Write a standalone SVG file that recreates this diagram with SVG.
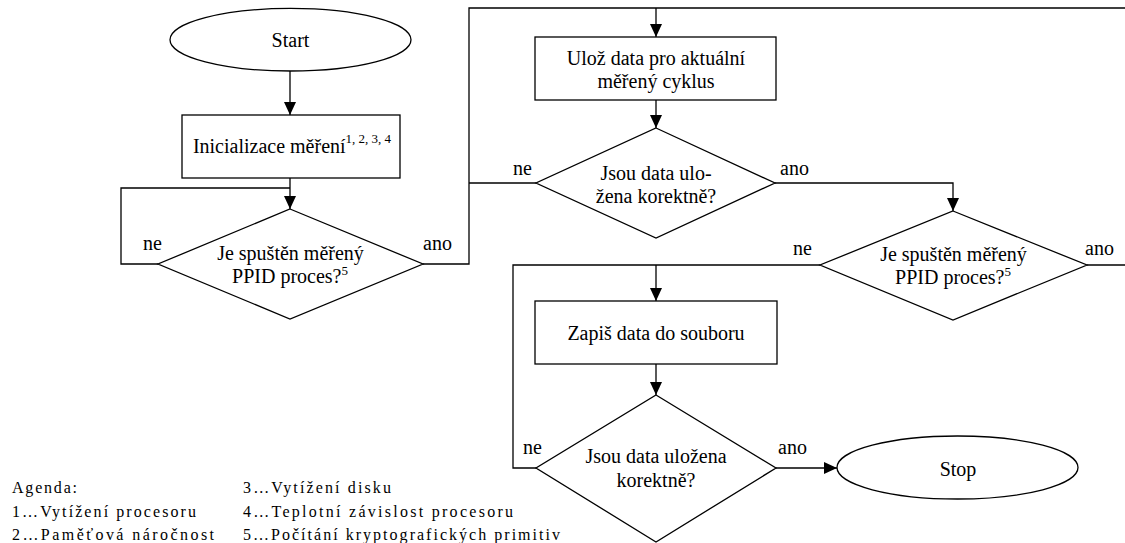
<svg xmlns="http://www.w3.org/2000/svg" width="1125" height="543" viewBox="0 0 1125 543" font-family="'Liberation Serif', 'Times New Roman', Tinos, 'DejaVu Serif', serif">
<style>
.n{fill:#fff;stroke:#000;stroke-width:1.3}
.c{fill:none;stroke:#000;stroke-width:1.3}
text{font-size:20px;fill:#000}
.m{text-anchor:middle}
.lg{font-size:16px}
.sup{font-size:13px}
</style>
<defs>
<marker id="arr" markerUnits="userSpaceOnUse" markerWidth="14" markerHeight="12" refX="13" refY="6" orient="auto">
<path d="M0,0 L13,6 L0,12 Z" fill="#000"/>
</marker>
</defs>
<rect x="0" y="0" width="1125" height="543" fill="#fff"/>

<g id="connectors">
<path class="c" d="M290,71 V115" marker-end="url(#arr)"/>
<path class="c" d="M290,178 V209" marker-end="url(#arr)"/>
<path class="c" d="M158,264 H121 V188 H290"/>
<path class="c" d="M423,264 H469 V8 H1125"/>
<path class="c" d="M656,8 V37" marker-end="url(#arr)"/>
<path class="c" d="M656,100 V128" marker-end="url(#arr)"/>
<path class="c" d="M536,183 H469"/>
<path class="c" d="M775,183 H953 V211" marker-end="url(#arr)"/>
<path class="c" d="M1087,265 H1125"/>
<path class="c" d="M820,265 H513 V468 H536"/>
<path class="c" d="M656,265 V301" marker-end="url(#arr)"/>
<path class="c" d="M656,364 V395" marker-end="url(#arr)"/>
<path class="c" d="M776,468 H837" marker-end="url(#arr)"/>
<text x="143" y="250">ne</text>
<text x="423" y="250">ano</text>
<text x="513" y="175">ne</text>
<text x="780" y="175">ano</text>
<text x="793" y="255">ne</text>
<text x="1085" y="255">ano</text>
<text x="523" y="454">ne</text>
<text x="778" y="454">ano</text>
</g>

<g id="start">
<ellipse class="n" cx="290.5" cy="39.7" rx="120.5" ry="31.3"/>
<text class="m" x="290.5" y="46.5">Start</text>
</g>

<g id="init">
<rect class="n" x="182" y="115" width="218" height="63"/>
<text class="m" x="292" y="153">Inicializace měření<tspan class="sup" dy="-10">1, 2, 3, 4</tspan></text>
</g>

<g id="decision1">
<polygon class="n" points="290,209 423,264 290,319 158,264"/>
<text class="m" x="290.5" y="259.5">Je spuštěn měřený</text>
<text class="m" x="290" y="283">PPID proces?<tspan class="sup" dy="-8">5</tspan></text>
</g>

<g id="store">
<rect class="n" x="535" y="37" width="241" height="63"/>
<text class="m" x="656" y="65">Ulož data pro aktuální</text>
<text class="m" x="656" y="88">měřený cyklus</text>
</g>

<g id="decision2">
<polygon class="n" points="656,128 775,183 656,238 536,183"/>
<text class="m" x="656" y="180">Jsou data ulo-</text>
<text class="m" x="656" y="203">žena korektně?</text>
</g>

<g id="decision3">
<polygon class="n" points="953,211 1087,265 953,320 820,265"/>
<text class="m" x="953.5" y="260.5">Je spuštěn měřený</text>
<text class="m" x="953" y="284">PPID proces?<tspan class="sup" dy="-8">5</tspan></text>
</g>

<g id="write">
<rect class="n" x="535" y="301" width="242" height="63"/>
<text class="m" x="656" y="340">Zapiš data do souboru</text>
</g>

<g id="decision4">
<polygon class="n" points="656,395 776,468 656,542 536,468"/>
<text class="m" x="656" y="463">Jsou data uložena</text>
<text class="m" x="656" y="487">korektně?</text>
</g>

<g id="stop">
<ellipse class="n" cx="957.5" cy="467.5" rx="120.5" ry="31.5"/>
<text class="m" x="958" y="476">Stop</text>
</g>

<g id="legend">
<text class="lg" x="12" y="493" textLength="65" lengthAdjust="spacing">Agenda:</text>
<text class="lg" x="12" y="516.5" textLength="184" lengthAdjust="spacing">1…Vytížení procesoru</text>
<text class="lg" x="12" y="540" textLength="202" lengthAdjust="spacing">2…Paměťová náročnost</text>
<text class="lg" x="243" y="493" textLength="148" lengthAdjust="spacing">3…Vytížení disku</text>
<text class="lg" x="243" y="516.5" textLength="270" lengthAdjust="spacing">4…Teplotní závislost procesoru</text>
<text class="lg" x="243" y="540" textLength="317" lengthAdjust="spacing">5…Počítání kryptografických primitiv</text>
</g>
</svg>
